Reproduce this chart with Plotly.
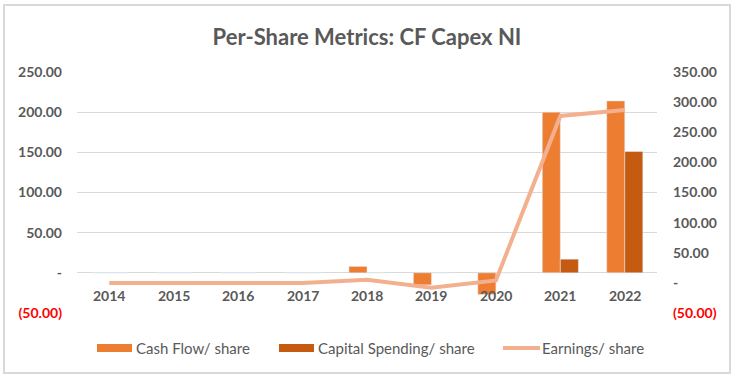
import plotly.graph_objects as go

years = ["2014", "2015", "2016", "2017", "2018", "2019", "2020", "2021", "2022"]
cash_flow = [0, 0, 0, 0, 8, -15, -27, 200, 214]
capex = [0, 0, 0, 0, 0, 0, 0, 17, 151]
earnings = [0, 0, 0, 0, 5, -8, 4, 277, 287]

series_names = ["Cash Flow/ share", "Capital Spending/ share", "Earnings/ share"]
series_colors = ["#ED7D31", "#C55A11", "#F3B08E"]

left_ticks = [-50, 0, 50, 100, 150, 200, 250]
left_text = ["<span style='color:#FF0000'>(50.00)</span>", "-", "50.00", "100.00", "150.00", "200.00", "250.00"]
right_ticks = [-50, 0, 50, 100, 150, 200, 250, 300, 350]
right_text = ["<span style='color:#FF0000'>(50.00)</span>", "-", "50.00", "100.00", "150.00", "200.00", "250.00", "300.00", "350.00"]

font = "Lato"
grey = "#595959"

fig = go.Figure()
fig.add_trace(go.Bar(x=years, y=cash_flow, name=series_names[0], marker_color=series_colors[0]))
fig.add_trace(go.Bar(x=years, y=capex, name=series_names[1], marker_color=series_colors[1]))
fig.add_trace(go.Scatter(x=years, y=earnings, name=series_names[2], mode="lines",
                         line=dict(color=series_colors[2], width=4), yaxis="y2"))

for i, yr in enumerate(years):
    fig.add_annotation(x=i, y=0, xref="x", yref="y", text=yr, showarrow=False,
                       yanchor="top", yshift=-12, font=dict(family=font, size=14, color=grey, weight="bold"))

# legend drawn with swatches in paper coordinates
W, H = 580, 241
L0, B0 = 77, 313
def px(x):
    return (x - L0) / W
def py(y):
    return (B0 - y) / H

leg_y = 348
swatch_x = [97, 279, 503]
for i, name in enumerate(series_names):
    x0 = swatch_x[i]
    if i < 2:
        fig.add_shape(type="rect", xref="paper", yref="paper", x0=px(x0), x1=px(x0 + 35),
                      y0=py(leg_y + 4), y1=py(leg_y - 4), fillcolor=series_colors[i], line=dict(width=0))
    else:
        fig.add_shape(type="line", xref="paper", yref="paper", x0=px(x0), x1=px(x0 + 37),
                      y0=py(leg_y), y1=py(leg_y), line=dict(color=series_colors[i], width=4))
    fig.add_annotation(xref="paper", yref="paper", x=px(x0 + 37), y=py(leg_y), text=name,
                       showarrow=False, xanchor="left", yanchor="middle",
                       font=dict(family=font, size=15, color=grey))

fig.update_layout(
    width=736, height=378,
    margin=dict(l=77, r=79, t=72, b=65, autoexpand=False),
    paper_bgcolor="white", plot_bgcolor="white",
    title=dict(text="Per-Share Metrics: CF Capex NI", x=0.5, xanchor="center",
               yref="container", y=1 - 37 / 378, yanchor="middle", automargin=False,
               xref="paper", font=dict(family=font, size=22, color=grey, weight="bold")),
    barmode="group", bargap=0.44, bargroupgap=0,
    showlegend=False,
    xaxis=dict(type="category", range=[-0.5, 8.5], showticklabels=False, showgrid=False,
               zeroline=False, showline=False, ticks="", automargin=False),
    yaxis=dict(range=[-50, 250], tickvals=left_ticks, ticktext=left_text, showgrid=True,
               gridcolor="#D9D9D9", gridwidth=1, zeroline=True, zerolinecolor="#D9D9D9",
               zerolinewidth=1, ticks="", ticklabelstandoff=14, automargin=False,
               tickfont=dict(family=font, size=14, color=grey, weight="bold")),
    yaxis2=dict(range=[-50, 350], tickvals=right_ticks, ticktext=right_text, overlaying="y",
                side="right", showgrid=False, zeroline=False, ticks="", ticklabelstandoff=15,
                automargin=False, tickfont=dict(family=font, size=14, color=grey, weight="bold")),
)

fig.add_shape(type="rect", xref="paper", yref="paper", x0=px(4), x1=px(730),
              y0=py(373), y1=py(5),
              line=dict(color="#D9D9D9", width=2), fillcolor="rgba(0,0,0,0)", layer="below")

fig.write_html("out.html", config={"displayModeBar": False},
               post_script="document.body.style.margin='0';document.body.style.overflow='hidden';")
